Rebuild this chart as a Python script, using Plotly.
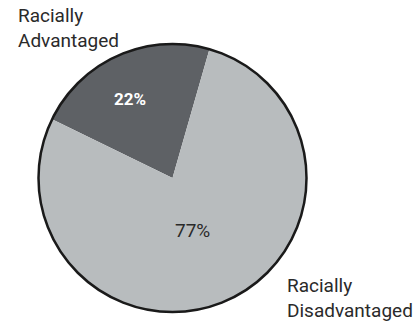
import math
import plotly.graph_objects as go

categories = ["Racially Advantaged", "Racially Disadvantaged"]
values = [22, 77]
pct_labels = ["22%", "77%"]
colors = ["#5e6165", "#b8bcbe"]

W, H = 420, 323
cx, cy, r = 172.5, 178, 134
rotation = -64
dom_x = [(cx - r) / W, (cx + r) / W]
dom_y = [(H - cy - r) / H, (H - cy + r) / H]

fig = go.Figure()
fig.add_trace(go.Pie(
    labels=categories, values=values, textinfo="none",
    sort=False, direction="clockwise", rotation=rotation,
    marker=dict(colors=colors, line=dict(width=0)),
    domain=dict(x=dom_x, y=dom_y), showlegend=False, hoverinfo="skip",
))
fig.add_trace(go.Pie(
    labels=["outline"], values=[1], textinfo="none", sort=False,
    marker=dict(colors=["rgba(0,0,0,0)"], line=dict(width=2.5, color="#1a1a1a")),
    domain=dict(x=dom_x, y=dom_y), showlegend=False, hoverinfo="skip",
))

# percentage labels placed along each slice's mid-angle
total = sum(values)
radial_frac = [0.67, 0.42]
angle_offset = [-4.3, 3.3]
pct_fonts = [dict(family="Roboto", size=17, color="white", weight="bold"),
             dict(family="Roboto", size=19, color="#2a2a2a")]
cum = 0
for v, lab, rf, off, f in zip(values, pct_labels, radial_frac, angle_offset, pct_fonts):
    mid = rotation + 360 * (cum + v / 2) / total + off
    cum += v
    a = math.radians(mid)
    px = cx + rf * r * math.sin(a)
    py = cy - rf * r * math.cos(a)
    fig.add_annotation(x=px / W, y=1 - py / H, xref="paper", yref="paper",
                       xanchor="center", yanchor="middle", showarrow=False,
                       text=lab, font=f)

font = dict(family="Roboto", size=19, color="#2a2a2a")
fig.add_annotation(x=16 / W, y=1 - 2 / H, xref="paper", yref="paper",
                   xanchor="left", yanchor="top", align="left", showarrow=False,
                   text="Racially<br>Advantaged", font=font)
fig.add_annotation(x=285 / W, y=1 - 272 / H, xref="paper", yref="paper",
                   xanchor="left", yanchor="top", align="left", showarrow=False,
                   text="Racially<br>Disadvantaged", font=font)

fig.update_layout(width=W, height=H, margin=dict(l=0, r=0, t=0, b=0),
                  paper_bgcolor="white", plot_bgcolor="white")
fig.write_html("out.html")
